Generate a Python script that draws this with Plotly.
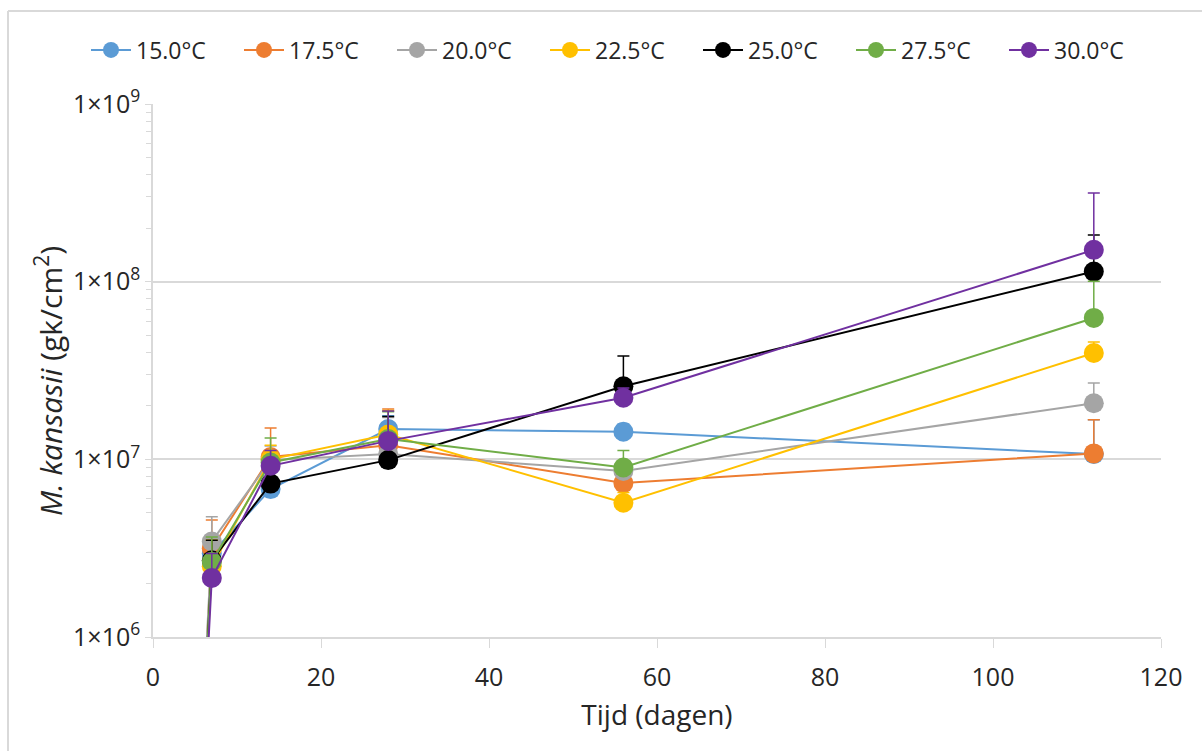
import plotly.graph_objects as go

# Sampling days
days = [0, 7, 14, 28, 56, 112]

# Series labels and colours
labels = ["15.0°C", "17.5°C", "20.0°C", "22.5°C", "25.0°C", "27.5°C", "30.0°C"]
colors = ["#5B9BD5", "#ED7D31", "#A5A5A5", "#FFC000", "#000000", "#70AD47", "#7030A0"]

# Mean counts (gk/cm2) per temperature
t150 = [1, 2.95e6, 6.8e6, 1.48e7, 1.43e7, 1.07e7]
t175 = [1, 3.15e6, 1.03e7, 1.20e7, 7.35e6, 1.08e7]
t200 = [1, 3.45e6, 9.9e6, 1.07e7, 8.6e6, 2.07e7]
t225 = [1, 2.50e6, 1.0e7, 1.38e7, 5.7e6, 3.97e7]
t250 = [1, 2.70e6, 7.3e6, 9.9e6, 2.58e7, 1.14e8]
t275 = [1, 2.65e6, 9.6e6, 1.30e7, 9.0e6, 6.25e7]
t300 = [1, 2.15e6, 9.2e6, 1.27e7, 2.22e7, 1.51e8]

# Upper error (standard deviation) per temperature
e150 = [0, 0.6e6, 0.8e6, 2.8e6, 1.5e6, 6.0e6]
e175 = [0, 1.4e6, 4.7e6, 7.2e6, 1.0e6, 5.9e6]
e200 = [0, 1.3e6, 2.0e6, 6.5e6, 1.0e6, 6.2e6]
e225 = [0, 1.0e6, 2.0e6, 5.0e6, 0.8e6, 6.1e6]
e250 = [0, 0.8e6, 1.5e6, 7.5e6, 1.24e7, 6.9e7]
e275 = [0, 1.0e6, 3.6e6, 5.5e6, 2.2e6, 3.8e7]
e300 = [0, 0.8e6, 2.0e6, 6.0e6, 3.0e6, 1.65e8]

series = [t150, t175, t200, t225, t250, t275, t300]
errors = [e150, e175, e200, e225, e250, e275, e300]

# Y-axis ticks
ytick_vals = [1e6, 1e7, 1e8, 1e9]
ytick_text = ["1×10<sup>6</sup>", "1×10<sup>7</sup>", "1×10<sup>8</sup>", "1×10<sup>9</sup>"]
yminor_vals = [m * d for d in (1e6, 1e7, 1e8) for m in range(2, 10)]

FONT = "Open Sans"
TXT = "#262626"
AX = "#D9D9D9"

fig = go.Figure()
for name, col, ys, es in zip(labels, colors, series, errors):
    fig.add_trace(go.Scatter(
        x=days, y=ys, name=name, mode="lines+markers",
        line=dict(color=col, width=2),
        marker=dict(color=col, size=20),
        error_y=dict(type="data", symmetric=False, array=es,
                     arrayminus=[0] * len(es), color=col,
                     thickness=1.5, width=6),
    ))

W, H = 1202, 751
L, R, T, B = 153, 41, 104, 114
pw, ph = W - L - R, H - T - B

def px_x(p):
    return (p - L) / pw

def px_y(p):
    return (H - B - p) / ph

# Outer chart border (left and top edges)
border = dict(color=AX, width=2)
shapes = [
    dict(type="line", xref="paper", yref="paper", x0=px_x(8), x1=px_x(8),
         y0=px_y(H + 5), y1=px_y(11), line=border),
    dict(type="line", xref="paper", yref="paper", x0=px_x(8), x1=px_x(W + 5),
         y0=px_y(11), y1=px_y(11), line=border),
]

# Y-axis title as a rotated annotation
ytitle = dict(
    text="<i>M. kansasii</i> (gk/cm<sup>2</sup>)",
    xref="paper", yref="paper", x=px_x(49), y=px_y(381),
    xanchor="center", yanchor="middle", textangle=-90,
    showarrow=False, font=dict(size=30, color=TXT),
)

fig.update_layout(
    width=W, height=H,
    margin=dict(l=L, r=R, t=T, b=B),
    paper_bgcolor="white", plot_bgcolor="white",
    font=dict(family=FONT, size=18, color=TXT),
    shapes=shapes,
    annotations=[ytitle],
    showlegend=True,
    legend=dict(orientation="h", x=px_x(86), xanchor="left", y=px_y(50),
                yanchor="middle", font=dict(size=23, color=TXT),
                itemwidth=40, entrywidth=98, tracegroupgap=0),
    xaxis=dict(
        range=[0, 120], tickvals=[0, 20, 40, 60, 80, 100, 120],
        showgrid=False, zeroline=False,
        showline=True, linecolor=AX, linewidth=1.5,
        ticks="outside", ticklen=9, tickcolor=AX,
        ticklabelstandoff=8,
        tickfont=dict(size=25, color=TXT),
        title=dict(text="Tijd (dagen)", font=dict(size=28, color=TXT),
                   standoff=14),
    ),
    yaxis=dict(
        type="log", range=[6, 9],
        tickvals=ytick_vals, ticktext=ytick_text,
        showgrid=True, gridcolor=AX, gridwidth=1.5,
        zeroline=False,
        showline=True, linecolor=AX, linewidth=1.5,
        ticks="outside", ticklen=6, tickcolor=AX,
        minor=dict(tickvals=yminor_vals, ticks="outside", ticklen=5,
                   tickcolor=AX, showgrid=False),
        tickfont=dict(size=25, color=TXT),
    ),
)

fig.write_html("out.html")
